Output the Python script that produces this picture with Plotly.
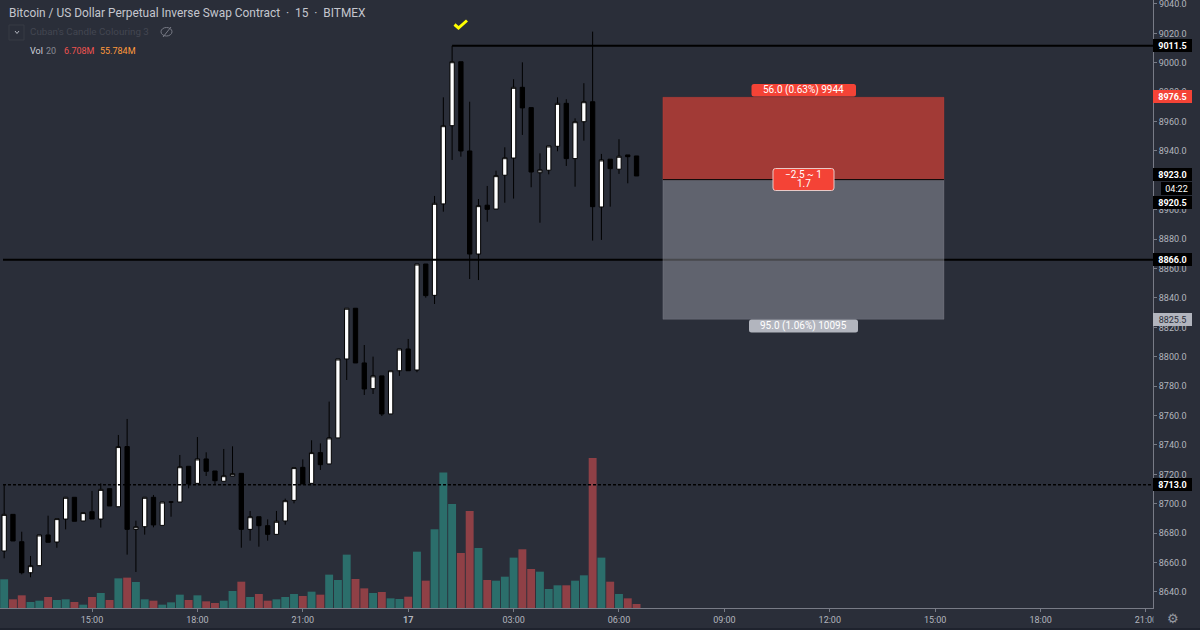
import plotly.graph_objects as go

bar_index = list(range(73))
opens = [8667.9,8692.8,8674.2,8653.1,8657.9,8678.8,8674.0,8689.6,8704.4,8688.3,8694.6,8689.6,8710.3,8698.0,8738.9,8682.6,8684.4,8704.4,8685.3,8701.2,
 8701.2,8725.5,8713.9,8730.5,8722.3,8715.3,8718.9,8720.7,8682.6,8691.2,8685.1,8679.2,8688.3,8702.3,8724.8,8713.9,8734.8,8727.1,8744.8,8798.5,
 8833.0,8795.8,8778.3,8787.0,8761.1,8790.5,8805.3,8791.0,8863.1,8841.8,8904.0,8957.2,9000.7,8940.0,8869.9,8903.1,8900.5,8923.5,8935.2,8983.3,
 8969.5,8925.2,8926.9,8943.2,8972.4,8934.8,8959.9,8973.5,8901.9,8934.4,8927.6,8937.3,8936.6]
highs = [8712.8,8692.8,8681.0,8664.5,8678.8,8691.9,8689.9,8704.4,8704.4,8694.0,8708.7,8713.9,8710.3,8746.8,8757.7,8688.5,8704.4,8706.0,8701.2,8701.2,
 8733.2,8725.5,8745.4,8735.0,8722.3,8737.3,8739.1,8720.7,8695.1,8691.2,8689.4,8695.1,8703.5,8724.6,8730.2,8743.2,8741.1,8769.5,8798.5,8833.0,
 8833.0,8808.0,8800.1,8787.0,8790.5,8805.3,8812.1,8863.1,8863.1,8909.4,8976.5,9011.5,9000.7,8973.5,8907.3,8916.2,8926.6,8942.5,8988.8,9000.3,
 8969.5,8938.4,8943.4,8976.5,8975.2,8962.2,8986.1,9021.2,8938.0,8934.4,8948.0,8937.3,8936.6]
lows = [8662.9,8674.7,8652.0,8650.0,8657.9,8673.8,8670.1,8682.6,8688.1,8688.3,8689.6,8683.8,8698.5,8698.0,8665.4,8653.6,8679.0,8684.0,8685.3,8691.2,
 8701.2,8710.5,8713.9,8718.9,8712.8,8715.3,8718.9,8670.1,8674.9,8670.8,8674.9,8679.2,8685.8,8700.3,8713.5,8713.9,8723.0,8727.1,8744.8,8784.2,
 8795.8,8774.0,8774.7,8759.7,8761.1,8787.0,8790.5,8789.5,8840.2,8835.9,8898.7,8933.9,8936.1,8852.9,8852.2,8891.9,8900.5,8904.8,8907.6,8950.9,
 8915.3,8891.2,8924.1,8939.8,8929.8,8915.7,8947.0,8879.0,8879.5,8902.1,8924.4,8918.0,8923.0]
closes = [8692.8,8674.7,8653.1,8657.9,8678.8,8673.8,8689.9,8704.4,8688.1,8694.0,8689.6,8709.8,8698.5,8738.9,8682.6,8684.4,8704.4,8685.6,8701.2,8701.2,
 8725.2,8713.5,8730.5,8722.1,8715.7,8719.1,8720.5,8682.6,8691.2,8685.1,8679.2,8688.1,8702.1,8724.6,8713.5,8734.8,8726.6,8744.8,8798.5,8833.0,
 8795.8,8778.1,8787.0,8761.1,8790.5,8805.3,8790.5,8863.1,8841.6,8904.4,8957.2,9000.7,8940.0,8869.9,8902.8,8900.3,8923.2,8935.4,8983.3,8969.3,
 8925.7,8927.1,8943.4,8972.4,8934.8,8959.9,8973.5,8902.1,8933.9,8928.0,8936.4,8936.1,8923.0]
volumes_m = [48.2,14.6,21.3,10.1,12.3,18.5,13.4,14.6,10.1,5.6,18.5,25.2,13.4,49.8,51.0,43.7,14.6,12.3,5.6,9.5,
 22.4,13.4,21.3,11.2,8.4,12.3,28.6,44.2,18.5,23.5,12.3,14.6,18.5,23.5,20.2,27.4,22.4,56.0,47.0,89.6,
 48.7,33.0,25.2,26.9,16.2,15.1,19.0,94.6,45.9,132.2,227.4,174.7,92.4,163.0,100.8,47.0,45.9,52.6,84.6,98.6,
 65.5,61.0,31.9,38.1,38.1,45.9,54.9,252.0,84.6,44.2,23.5,16.2,6.7]
x_tick_bars = [10,22,34,46,58,70,82,94,106,118,130]
x_tick_text = ["15:00","18:00","21:00","<b>17</b>","03:00","06:00","09:00","12:00","15:00","18:00","21:00"]
price_ticks = [9040,9020,9000,8980,8960,8940,8900,8880,8860,8840,8820,8800,8780,8760,8740,8720,8700,8680,8660,8640]

BG = "#2a2e39"
AXIS = "#787b86"
TXT = "#b2b5be"
FONT = "Roboto"
W, H = 1200, 630
PW, PH = 1153, 608   # plot-area size in pixels

def fx(px): return px / PW
def fy(py): return 1 - py / PH

vol_colors = ["#2b6e6b" if c >= o else "#8f4046" for o, c in zip(opens, closes)]

fig = go.Figure()
fig.add_trace(go.Bar(x=bar_index, y=volumes_m, marker=dict(color=vol_colors, line=dict(width=0)),
                     yaxis="y", showlegend=False, hoverinfo="skip"))
fig.add_trace(go.Candlestick(x=bar_index, open=opens, high=highs, low=lows, close=closes, yaxis="y2",
                             increasing=dict(fillcolor="#ffffff", line=dict(color="#000000", width=1)),
                             decreasing=dict(fillcolor="#000000", line=dict(color="#000000", width=1)),
                             showlegend=False, hoverinfo="skip"))

shapes = []
def pline(x0, y0, x1, y1, color, width=1, dash="solid"):
    shapes.append(dict(type="line", xref="paper", yref="paper", x0=fx(x0), x1=fx(x1), y0=fy(y0), y1=fy(y1),
                       line=dict(color=color, width=width, dash=dash), layer="above"))

def rounded(x0, y0, x1, y1, color, r=2.5, border=None):
    X = fx
    Y = fy
    d = (f"M {X(x0 + r)} {Y(y0)} L {X(x1 - r)} {Y(y0)} Q {X(x1)} {Y(y0)} {X(x1)} {Y(y0 + r)} "
         f"L {X(x1)} {Y(y1 - r)} Q {X(x1)} {Y(y1)} {X(x1 - r)} {Y(y1)} "
         f"L {X(x0 + r)} {Y(y1)} Q {X(x0)} {Y(y1)} {X(x0)} {Y(y1 - r)} "
         f"L {X(x0)} {Y(y0 + r)} Q {X(x0)} {Y(y0)} {X(x0 + r)} {Y(y0)} Z")
    shapes.append(dict(type="path", xref="paper", yref="paper", path=d, fillcolor=color,
                       line=dict(color=border or color, width=1 if border else 0), layer="above"))

# horizontal levels (in price)
shapes.append(dict(type="line", xref="paper", yref="y2", x0=fx(3), x1=1, y0=8866, y1=8866,
                   line=dict(color="#000000", width=2)))
shapes.append(dict(type="line", xref="paper", yref="y2", x0=fx(3), x1=1, y0=8713, y1=8713,
                   line=dict(color="#000000", width=1.5, dash="3px,2px")))
shapes.append(dict(type="line", xref="x", yref="y2", x0=51, x1=130.8, y0=9011.5, y1=9011.5,
                   line=dict(color="#000000", width=2)))
# short position box
shapes.append(dict(type="rect", xref="x", yref="y2", x0=75, x1=107, y0=8920.5, y1=8976.5,
                   fillcolor="rgba(244,67,54,0.6)", line=dict(color="rgba(244,67,54,0.25)", width=1)))
shapes.append(dict(type="rect", xref="x", yref="y2", x0=75, x1=107, y0=8825.5, y1=8920.5,
                   fillcolor="rgba(178,181,190,0.4)", line=dict(color="rgba(178,181,190,0.2)", width=1)))
shapes.append(dict(type="line", xref="x", yref="y2", x0=75, x1=107, y0=8920.5, y1=8920.5,
                   line=dict(color="#000000", width=1)))
# cover of the clipped last time label, right of the price axis
shapes.append(dict(type="rect", xref="paper", yref="paper", x0=fx(1153.5), x1=fx(1200), y0=fy(610), y1=fy(628),
                   fillcolor=BG, line=dict(width=0), layer="above"))
# legend widgets
shapes.append(dict(type="rect", xref="paper", yref="paper", x0=fx(9), x1=fx(24), y0=fy(25), y1=fy(40),
                   line=dict(color="#363a45", width=1), layer="above"))
pline(15, 31, 17, 33.5, TXT, 1); pline(17, 33.5, 19, 31, TXT, 1)
shapes.append(dict(type="circle", xref="paper", yref="paper", x0=fx(161), x1=fx(172), y0=fy(27.5), y1=fy(36),
                   line=dict(color="#787b86", width=1), layer="above"))
pline(163, 37, 171, 27, "#787b86", 1)
# yellow check mark above the high
shapes.append(dict(type="path", xref="paper", yref="paper", layer="above",
                   path=f"M {fx(454.5)} {fy(24.5)} L {fx(458.5)} {fy(28)} L {fx(467)} {fy(20.5)}",
                   line=dict(color="#ffff00", width=3)))
# white dashes at price tags
tag_dash_y = [45.2, 97, 175, 202, 259.5, 319, 484.5]
for yy in tag_dash_y:
    pline(1153, yy, 1156, yy, "#ffffff", 1)
# bottom strip
shapes.append(dict(type="rect", xref="paper", yref="paper", x0=0, x1=W / PW, y0=fy(628), y1=fy(630),
                   fillcolor="#1e222d", line=dict(width=0), layer="above"))
# position labels, rounded
rounded(751.5, 84, 856, 96.5, "#f44336")
rounded(773, 168.5, 834, 190.5, "#f44336", border="#e8c9c7")
rounded(749, 319.5, 858, 332.5, "#b2b5be")

anns = []
def text(px, py, s, size=10.5, color=TXT, anchor="left"):
    anns.append(dict(xref="paper", yref="paper", x=fx(px), y=fy(py), text=s, showarrow=False, xanchor=anchor,
                     yanchor="middle", font=dict(family=FONT, size=size, color=color), borderpad=0, borderwidth=0))
def box(cx, cy, w, h, s, bg, color="#ffffff", size=9.5, border=None):
    anns.append(dict(xref="paper", yref="paper", x=fx(cx), y=fy(cy), text=s, showarrow=False, xanchor="center",
                     yanchor="middle", width=w, height=h, align="center", bgcolor=bg, borderpad=0,
                     bordercolor=border or bg, borderwidth=1 if border else 0,
                     font=dict(family=FONT, size=size, color=color)))

text(9, 13.5, "Bitcoin / US Dollar Perpetual Inverse Swap Contract  ·  15  ·  BITMEX", 11.9, "#c4c6ce")
text(30, 32, "Cuban's Candle Colouring 3", 9.8, "#434651")
text(30, 50.5, "Vol", 9, "#d1d4dc")
text(46, 50.5, "20", 9, "#868993")
text(64, 50.5, "6.708M", 9, "#ef5350")
text(100, 50.5, "55.784M", 9, "#ff9a3c")
text(1173, 4, "9040.0", 9, TXT, "center")

text(803.5, 90, "56.0 (0.63%) 9944", 10, "#ffffff", "center")
text(803.5, 175, "−2.5 ~ 1", 10, "#ffffff", "center")
text(803.5, 184, "1.7", 10, "#ffffff", "center")
text(803.5, 326, "95.0 (1.06%) 10095", 10, "#ffffff", "center")

box(1172.5, 45.2, 39, 13, "<b>9011.5</b>", "#000000", size=9)
box(1172.5, 97, 39, 13, "<b>8976.5</b>", "#f44336", size=9)
box(1172.5, 175, 39, 13, "<b>8923.0</b>", "#000000", size=9)
box(1176.5, 189, 31, 13, "04:22", "#000000", size=9)
box(1172.5, 202, 39, 13, "<b>8920.5</b>", "#000000", size=9)
box(1172.5, 259.5, 39, 13, "<b>8866.0</b>", "#000000", size=9)
box(1172.5, 319, 39, 13, "8825.5", "#b2b5be", color="#2a2e39", size=9)
box(1172.5, 484.5, 39, 13, "<b>8713.0</b>", "#000000", size=9)
text(1173, 618, "⚙", 13, "#9598a1", "center")

fig.update_layout(
    width=W, height=H, paper_bgcolor=BG, plot_bgcolor=BG,
    margin=dict(l=0, r=W - PW, t=0, b=H - PH, pad=0),
    showlegend=False, bargap=0.1, dragmode=False,
    font=dict(family=FONT, size=9, color=TXT),
    xaxis=dict(range=[-0.475, 130.8], rangeslider=dict(visible=False), showgrid=False, zeroline=False,
               tickmode="array", tickvals=x_tick_bars, ticktext=x_tick_text, ticks="outside", ticklen=3,
               tickcolor=AXIS, tickfont=dict(family=FONT, size=9, color=TXT), showline=True, linecolor=AXIS, linewidth=1),
    yaxis=dict(domain=[0, 1], range=[0, 1021], visible=False, fixedrange=True),
    yaxis2=dict(overlaying="y", side="right", range=[8629.1, 9042.7], showgrid=False, zeroline=False,
                tickmode="array", tickvals=price_ticks, ticktext=[f"{p:.1f}" for p in price_ticks],
                ticks="outside", ticklen=3, tickcolor=AXIS, showline=True, linecolor=AXIS, linewidth=1,
                tickfont=dict(family=FONT, size=9, color=TXT), automargin=False),
    shapes=shapes, annotations=anns,
)
fig.write_html("out.html", config=dict(displayModeBar=False),
               post_script="document.body.style.margin='0';document.body.style.background='#2a2e39';")
